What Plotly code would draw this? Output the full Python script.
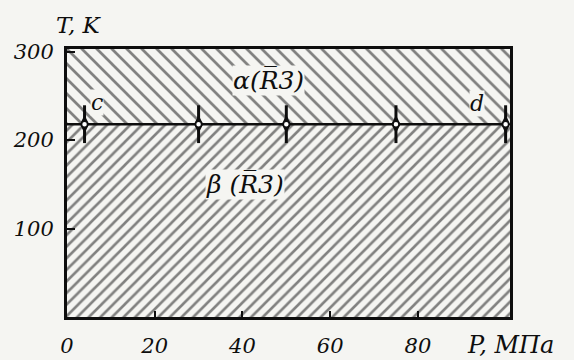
import plotly.graph_objects as go

# ---- data ----
P_axis = [0, 101]            # MPa, extent of the diagram
T_axis = [0, 303]            # K
T_transition = 218           # K, alpha/beta boundary (line c-d)
P_line = [0, 100]            # MPa, extent of the boundary line
P_points = [4, 30, 50, 75, 100]     # measured transition points
T_points = [218, 218, 218, 218, 218]
x_ticks = [0, 20, 40, 60, 80]
y_ticks = [100, 200, 300]

INK = "#0e0e0e"
BG = "#f5f5f2"
FONT = "DejaVu Serif"


def f(size):
    return dict(family=FONT, size=size, color=INK, style="italic")


fig = go.Figure()

# beta region (below the boundary) hatched "/"
fig.add_trace(go.Scatter(
    x=P_axis, y=[T_transition, T_transition], mode="lines",
    line=dict(width=0), fill="tozeroy", fillcolor=BG,
    fillpattern=dict(shape="/", size=8.2, solidity=0.32, fgcolor=INK, bgcolor=BG),
    hoverinfo="skip", showlegend=False))

# alpha region (above the boundary) hatched "\"
fig.add_trace(go.Scatter(
    x=P_axis, y=[T_axis[1], T_axis[1]], mode="lines",
    line=dict(width=0), fill="tonexty", fillcolor=BG,
    fillpattern=dict(shape="\\", size=10.6, solidity=0.26, fgcolor=INK, bgcolor=BG),
    hoverinfo="skip", showlegend=False))

# boundary line
fig.add_trace(go.Scatter(
    x=P_line, y=[T_transition, T_transition], mode="lines",
    line=dict(color=INK, width=2.5), hoverinfo="skip", showlegend=False))

# point symbols: vertical double-headed spindle with open circle
fig.add_trace(go.Scatter(
    x=P_points, y=T_points, mode="markers",
    marker=dict(symbol="line-ns", size=27, line=dict(color=INK, width=3)),
    hoverinfo="skip", showlegend=False, cliponaxis=False))
fig.add_trace(go.Scatter(
    x=P_points, y=T_points, mode="markers",
    marker=dict(symbol="diamond-tall", size=13, color=INK, line=dict(width=0)),
    hoverinfo="skip", showlegend=False, cliponaxis=False))
fig.add_trace(go.Scatter(
    x=P_points, y=T_points, mode="markers",
    marker=dict(symbol="circle", size=6, color="white", line=dict(color=INK, width=1.5)),
    hoverinfo="skip", showlegend=False, cliponaxis=False))

ann = [
    dict(xref="x", yref="y", x=6.8, y=242, text="c", font=f(22), bgcolor=BG),
    dict(xref="x", yref="y", x=93.4, y=241, text="d", font=f(22), bgcolor=BG),
    dict(xref="x", yref="y", x=46, y=267, text="\u03b1(R\u03053)", font=f(25), bgcolor=BG),
    dict(xref="x", yref="y", x=40.5, y=150, text="\u03b2 (R\u03053)", font=f(25), bgcolor=BG),
    dict(xref="paper", yref="paper", x=0.028, y=1.09, text="T, K", font=f(23)),
    dict(xref="paper", yref="paper", x=1.0, y=-0.105, text="P, \u041c\u041f\u0430", font=f(24)),
]
for a in ann:
    a.update(showarrow=False, xanchor="center", yanchor="middle", borderpad=0)

fig.update_layout(
    width=574, height=360,
    margin=dict(l=67, r=64, t=49, b=43),
    paper_bgcolor=BG, plot_bgcolor=BG,
    annotations=ann,
    xaxis=dict(range=P_axis, tickvals=x_ticks, ticktext=[str(v) for v in x_ticks],
               showgrid=False, zeroline=False, showline=True, mirror=True,
               linecolor=INK, linewidth=3, ticks="inside", ticklen=6, tickwidth=2,
               tickcolor=INK, tickfont=f(21), layer="above traces", ticklabelstandoff=8,
               automargin=False),
    yaxis=dict(range=T_axis, tickvals=y_ticks, ticktext=[str(v) for v in y_ticks],
               showgrid=False, zeroline=False, showline=True, mirror=True,
               linecolor=INK, linewidth=3, ticks="inside", ticklen=8, tickwidth=2,
               tickcolor=INK, tickfont=f(21), layer="above traces", ticklabelstandoff=6,
               automargin=False),
)

fig.write_html(
    "out.html",
    config={"displayModeBar": False},
    post_script="document.body.style.margin='0';document.body.style.background='#f5f5f2';",
)
